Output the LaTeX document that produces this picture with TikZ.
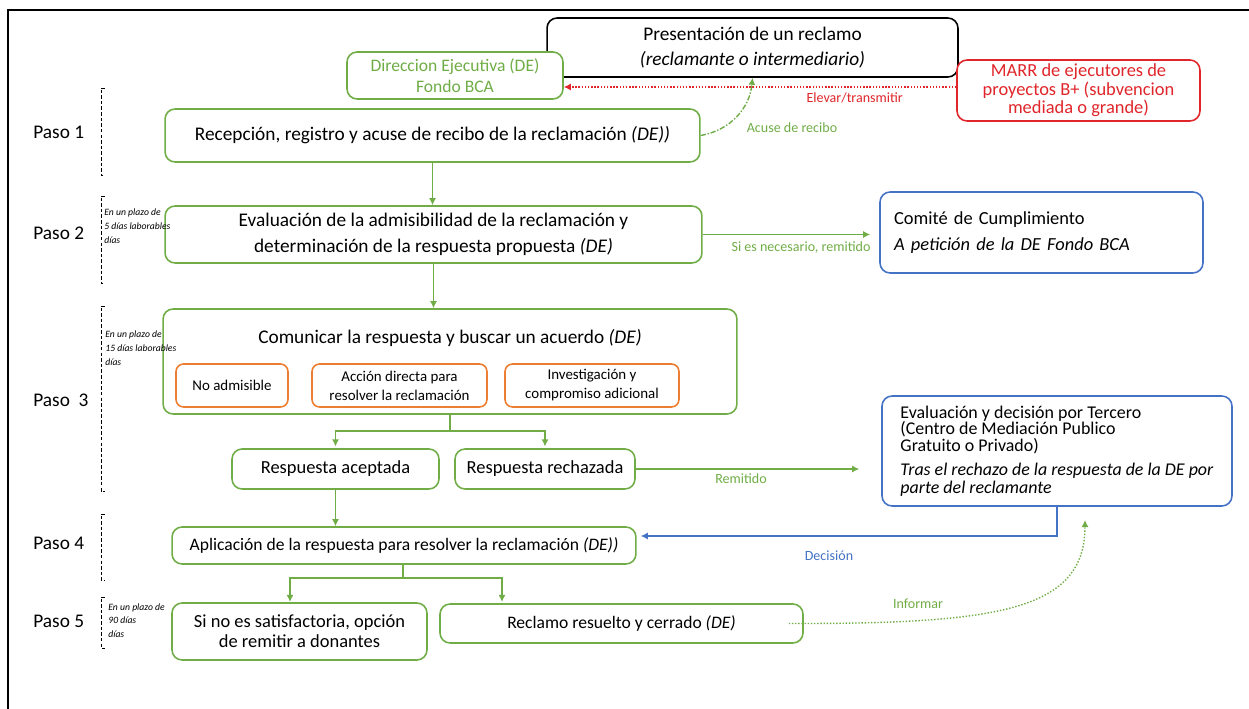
\documentclass[tikz,border=0pt]{standalone}
\usepackage{fontspec}
\setmainfont{Carlito}
\usetikzlibrary{arrows.meta}
\definecolor{fgreen}{HTML}{70AD47}
\definecolor{forange}{HTML}{ED7D31}
\definecolor{fblue}{HTML}{4472C4}
\definecolor{fred}{HTML}{E0262B}
\newcommand{\fs}[2]{\fontsize{#1}{#2}\selectfont}
\tikzset{
 roundbox/.style={draw, rounded corners=0.2cm, line width=0.9pt, fill=white, align=center, inner sep=0pt},
 greenbox/.style={roundbox, draw=fgreen, font=\fs{11}{15}},
 orangebox/.style={roundbox, draw=forange, rounded corners=0.15cm, font=\fs{8.5}{10.8}},
 bluebox/.style={roundbox, draw=fblue, align=left, inner xsep=0.28cm},
 redbox/.style={roundbox, draw=fred, text=fred, font=\fs{10.5}{10.5}},
 blackbox/.style={roundbox, draw=black, font=\fs{11}{14}},
 conn/.style={draw=fgreen, line width=0.9pt, -{Latex[length=4pt,width=4pt]}},
 lbl/.style={font=\fs{8}{9}, inner sep=1pt},
 paso/.style={font=\fs{11}{13}, anchor=west, inner sep=0pt},
 note/.style={font=\fs{5.5}{8}\itshape, anchor=north west, align=left, inner sep=0pt},
 brack/.style={line width=0.5pt, dash pattern=on 2pt off 1.2pt},
}

\begin{document}
\begin{tikzpicture}[x=0.02cm, y=-0.02cm]
    \useasboundingbox (0,0) rectangle (1249,709);
    \draw[line width=1.1pt] (8,709) -- (8,10) -- (1249,10);

    % top: claim, DE and MARR
    \node[blackbox, minimum width=8.22cm, minimum height=1.18cm] (pres) at (752.5,47.5)
        {Presentación de un reclamo\\\textit{(reclamante o intermediario)}};
    \node[greenbox, text=fgreen, font=\fs{10}{12}, minimum width=4.32cm, minimum height=0.94cm] (de) at (455,75.5)
        {Direccion Ejecutiva (DE)\\Fondo BCA};
    \node[redbox, minimum width=4.86cm, minimum height=1.22cm] (marr) at (1078.5,90.5)
        {MARR de ejecutores de\\proyectos B+ (subvencion\\mediada o grande)};
    \draw[fred, line width=0.8pt, densely dotted, -{Latex[length=4pt,width=4pt]}]
        ([yshift=0.07cm]marr.west) -- ([yshift=0.07cm]marr.west -| de.east);
    \node[lbl, text=fred, anchor=east] (elevar) at (905,98) {Elevar/transmitir};

    % pasos
    \node[greenbox, minimum width=10.7cm, minimum height=1.06cm] (p1) at (432.5,135.5)
        {Recepción, registro y acuse de recibo de la reclamación \textit{(DE))}};
    \draw[fgreen, line width=0.8pt, densely dashdotted, -{Latex[length=4pt,width=4pt]}]
        (p1.east) to[out=10, in=-95] (pres.south);
    \node[lbl, text=fgreen] (acuse) at (792,128) {Acuse de recibo};

    \node[greenbox, minimum width=10.74cm, minimum height=1.14cm] (p2) at (433.5,234.5)
        {Evaluación de la admisibilidad de la reclamación y\\determinación de la respuesta propuesta \textit{(DE)}};
    \draw[conn] (p1.south) -- (p1.south |- p2.north);

    \node[bluebox, font=\fs{10.5}{12.6}, text width=5.9cm, minimum height=1.62cm] (comite) at (1041.5,232.5)
        {Comité de Cumplimiento\\[2pt]\textit{A petición de la DE Fondo BCA}};
    \draw[conn, shorten >=0.18cm] (p2.east) -- (p2.east -| comite.west);
    \node[lbl, text=fgreen] (sinec) at (801,248) {Si es necesario, remitido};

    \node[greenbox, minimum width=11.48cm, minimum height=2.1cm] (p3) at (450,361.5) {};
    \node[font=\fs{11}{13}] (p3t) at (450,338) {Comunicar la respuesta y buscar un acuerdo \textit{(DE)}};
    \draw[conn] (p2.south) -- (p2.south |- p3.north);
    \node[orangebox, minimum width=2.24cm, minimum height=0.86cm] (noadm) at (232,385.5) {No admisible};
    \node[orangebox, minimum width=3.5cm, minimum height=0.86cm] (accion) at (399.5,385.5)
        {Acción directa para\\resolver la reclamación};
    \node[orangebox, minimum width=3.48cm, minimum height=0.86cm] (invest) at (592,385.5)
        {Investigación y\\compromiso adicional};

    \node[greenbox, font=\fs{10.5}{12}, minimum width=4.14cm, minimum height=0.8cm] (acept) at (335.5,469) {Respuesta aceptada};
    \node[greenbox, font=\fs{10.5}{12}, minimum width=3.6cm, minimum height=0.8cm] (rechaz) at (545,469) {Respuesta rechazada};
    \coordinate (s3) at (450,431);
    \draw[fgreen, line width=0.9pt] (p3.south) -- (s3);
    \draw[conn, shorten >=1pt] (s3) -| (acept.north);
    \draw[conn, shorten >=1pt] (s3) -| (rechaz.north);

    \node[bluebox, inner xsep=0pt, font=\fs{10.2}{9.4}, minimum width=7cm, minimum height=2.2cm] (tercero) at (1057,451)
        {Evaluación y decisión por Tercero\\(Centro de Mediación Publico\\Gratuito o Privado)\\[4.6pt]
         \textit{Tras el rechazo de la respuesta de la DE por}\\[0.8pt]\textit{parte del reclamante}};
    \draw[conn, shorten >=0.44cm] (rechaz.east) -- (rechaz.east -| tercero.west);
    \node[lbl, text=fgreen] (remit) at (741,479) {Remitido};

    \node[greenbox, font=\fs{10}{12}, minimum width=9.28cm, minimum height=0.74cm] (p4) at (404,545.5)
        {Aplicación de la respuesta para resolver la reclamación \textit{(DE))}};
    \draw[conn] (acept.south) -- (acept.south |- p4.north);
    \draw[draw=fblue, line width=0.9pt, -{Latex[length=4pt,width=4pt]}, shorten >=0.08cm]
        (tercero.south) |- ([yshift=0.19cm]p4.east);
    \node[lbl, text=fblue] (decis) at (829,556) {Decisión};

    \node[greenbox, font=\fs{10.5}{11.5}, minimum width=5.1cm, minimum height=1.14cm] (donantes) at (299.5,631.5)
        {Si no es satisfactoria, opción\\de remitir a donantes};
    \node[greenbox, font=\fs{10}{12}, minimum width=7.26cm, minimum height=0.78cm] (resuelto) at (621.5,623.5)
        {Reclamo resuelto y cerrado \textit{(DE)}};
    \coordinate (s4) at (403,578);
    \coordinate (t5a) at (290,602);
    \coordinate (t5b) at (502,602);
    \draw[fgreen, line width=0.9pt] (p4.south -| s4) -- (s4);
    \draw[conn] (s4) -| (t5a);
    \draw[conn] (s4) -| (t5b);

    \coordinate (inf) at (1085,520);
    \draw[fgreen, line width=0.8pt, densely dotted, -{Latex[length=4pt,width=4pt]}]
        ([xshift=-0.3cm]resuelto.east) .. controls (1000,624) and (1085,610) .. (inf);
    \node[lbl, text=fgreen] (informar) at (918,604) {Informar};

    % step labels and brackets
    \node[paso] (paso1) at (33,132) {Paso 1};
    \node[paso] (paso2) at (33,233) {Paso 2};
    \node[paso] (paso3) at (33,400) {Paso~~3};
    \node[paso] (paso4) at (33,543) {Paso 4};
    \node[paso] (paso5) at (33,621) {Paso 5};
    \draw[brack] (105,88) -- (101,88) -- (101,175) -- (105,175);
    \draw[brack] (105,196) -- (101,196) -- (101,283) -- (105,283);
    \draw[brack] (105,306) -- (101,306) -- (101,491) -- (105,491);
    \draw[brack] (105,514) -- (101,514) -- (101,580) -- (105,580);
    \draw[brack] (105,597) -- (101,597) -- (101,648) -- (105,648);
    \node[note] (plazo2) at (104,208) {En un plazo de\\5 días laborables\\días};
    \node[note] (plazo3) at (105,330) {En un plazo de\\15 días laborables\\días};
    \node[note, font=\fs{5.5}{7.7}\itshape] (plazo5) at (108,603) {En un plazo de\\90 días\\días};
\end{tikzpicture}
\end{document}
